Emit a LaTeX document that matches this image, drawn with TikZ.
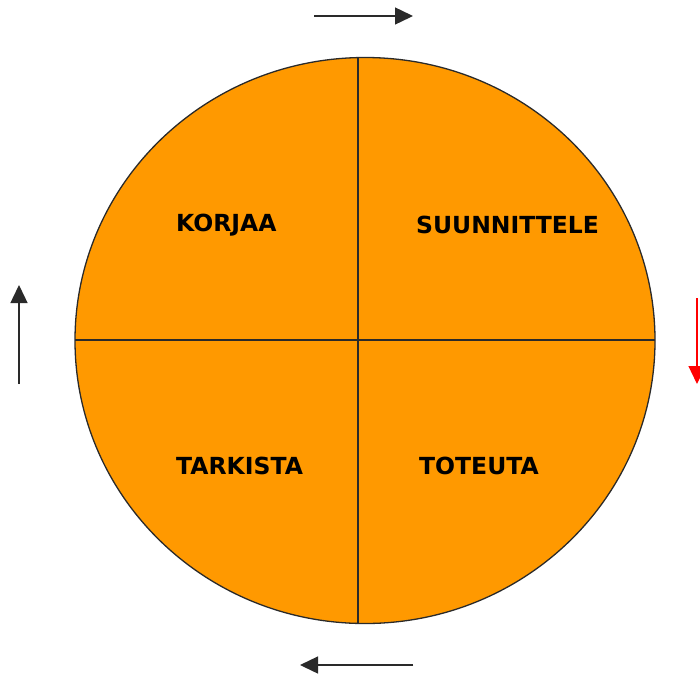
\documentclass[tikz,border=0pt]{standalone}
\usepackage{fontspec}
\setsansfont{DejaVu Sans}
\usetikzlibrary{arrows.meta}
\definecolor{wheel}{HTML}{FF9900}
\definecolor{ink}{HTML}{2A2A2A}

\begin{document}
\begin{tikzpicture}[x=1pt,y=-1pt,>={Triangle[length=18pt,width=17pt]},
  phase/.style={anchor=west,inner sep=0pt,font=\sffamily\bfseries\fontsize{23.5}{23.5}\selectfont},
  turn/.style={->,draw=ink,fill=black,line width=1.4pt}]
  \useasboundingbox (0,0) rectangle (700,675);
  % the wheel
  \filldraw[fill=wheel,draw=ink,line width=1.3pt] (365,340.5) ellipse (290 and 283);
  \coordinate (top) at (358,58);
  \coordinate (bottom) at (358,623);
  \coordinate (left) at (75,340);
  \coordinate (right) at (655,340);
  \draw[ink,line width=1.3pt] (top) -- (bottom);
  \draw[ink,line width=1.3pt] (left) -- (right);
  % the four phases
  \node[phase] (korjaa) at (176,225) {KORJAA};
  \node[phase] (suunnittele) at (416,225) {SUUNNITTELE};
  \node[phase] (tarkista) at (176,466) {TARKISTA};
  \node[phase] (toteuta) at (419,466) {TOTEUTA};
  % direction of travel
  \coordinate (n1) at (314,16);  \coordinate (n2) at (413,16);
  \coordinate (e1) at (697,298); \coordinate (e2) at (697,384);
  \coordinate (s1) at (413,665); \coordinate (s2) at (300,665);
  \coordinate (w1) at (19,384);  \coordinate (w2) at (19,285);
  \draw[turn] (n1) -- (n2);
  \draw[turn,draw=red,fill=red] (e1) -- (e2);
  \draw[turn] (s1) -- (s2);
  \draw[turn] (w1) -- (w2);
\end{tikzpicture}
\end{document}
